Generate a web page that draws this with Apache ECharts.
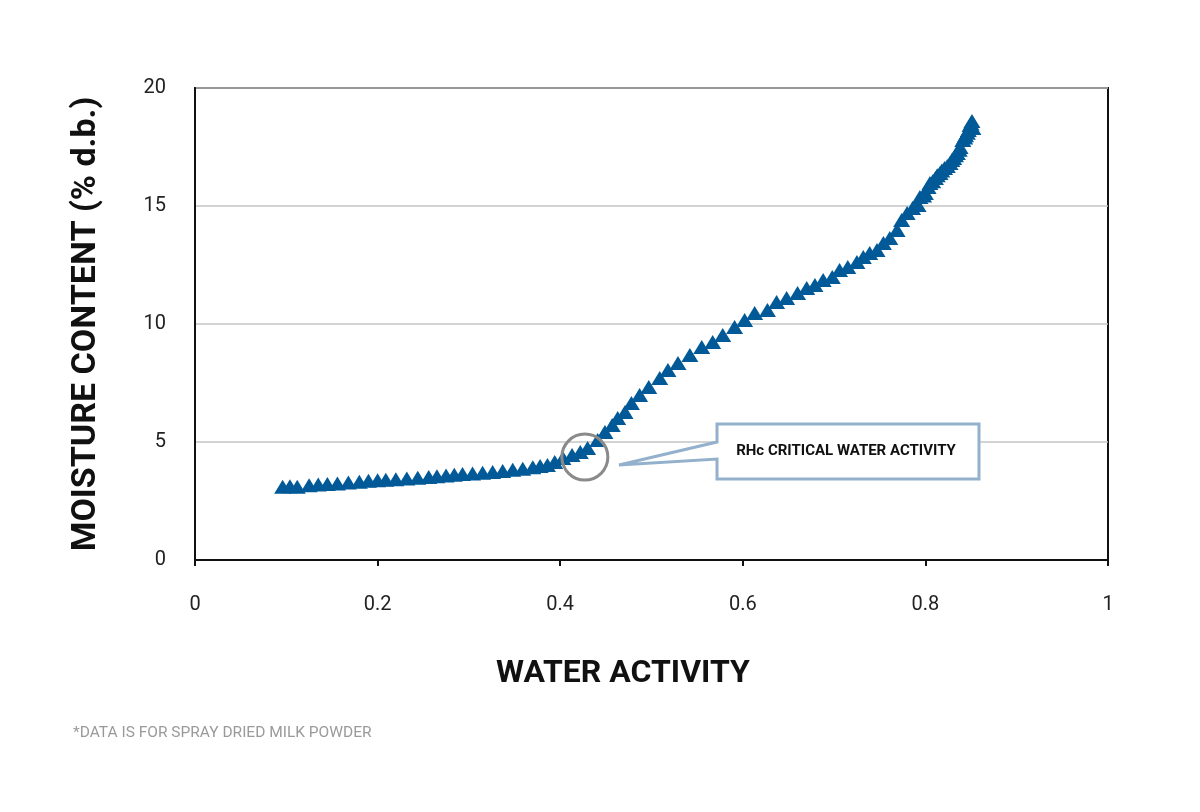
<!DOCTYPE html>
<html>
<head>
<meta charset="utf-8">
<script src="https://cdn.jsdelivr.net/npm/echarts@6/dist/echarts.min.js"></script>
<style>
html,body{margin:0;padding:0;background:#fff;}
#chart{width:1200px;height:812px;}
</style>
</head>
<body>
<div id="chart"></div>
<script>
// Water activity (x) values
const waterActivity = [
  0.096, 0.104, 0.112, 0.125, 0.135, 0.145, 0.156, 0.168, 0.180, 0.190,
  0.200, 0.209, 0.220, 0.232, 0.244, 0.256, 0.265, 0.275, 0.284, 0.293,
  0.304, 0.315, 0.326, 0.337, 0.348, 0.359, 0.370, 0.378,
  0.386, 0.394, 0.403, 0.413, 0.422, 0.430, 0.441, 0.449, 0.457, 0.463,
  0.471, 0.478, 0.487, 0.497, 0.509, 0.518, 0.529, 0.542, 0.555, 0.567,
  0.578, 0.591, 0.602, 0.613, 0.627, 0.637, 0.648, 0.660, 0.670, 0.679,
  0.688, 0.698, 0.706, 0.715, 0.725, 0.732, 0.739, 0.747, 0.754, 0.761,
  0.769, 0.774, 0.780, 0.786, 0.792, 0.794, 0.798, 0.800, 0.803, 0.805,
  0.808, 0.811, 0.813, 0.816, 0.818, 0.821, 0.824, 0.827, 0.829, 0.831,
  0.833, 0.835, 0.837, 0.838, 0.841, 0.843, 0.844, 0.846, 0.847, 0.849,
  0.850, 0.851, 0.852
];
// Moisture content (% d.b.) values
const moistureContent = [
  3.10, 3.12, 3.10, 3.17, 3.20, 3.22, 3.24, 3.28, 3.32, 3.36,
  3.38, 3.40, 3.42, 3.45, 3.49, 3.52, 3.55, 3.58, 3.61, 3.64,
  3.67, 3.70, 3.73, 3.77, 3.82, 3.87, 3.93, 3.98,
  4.03, 4.15, 4.32, 4.45, 4.58, 4.75, 5.08, 5.42, 5.72, 6.02,
  6.27, 6.65, 6.99, 7.33, 7.71, 8.05, 8.35, 8.69, 9.03, 9.24,
  9.53, 9.87, 10.17, 10.47, 10.59, 10.93, 11.10, 11.31, 11.53, 11.65,
  11.86, 11.99, 12.29, 12.42, 12.63, 12.84, 13.01, 13.14, 13.43, 13.64,
  13.98, 14.41, 14.70, 14.92, 15.04, 15.38, 15.45, 15.55, 15.80, 15.97,
  16.05, 16.19, 16.30, 16.40, 16.50, 16.61, 16.70, 16.82, 16.95, 17.03,
  17.15, 17.25, 17.38, 17.50, 17.80, 17.90, 18.00, 18.10, 18.22, 18.43,
  18.50, 18.60, 18.30
];
const xTicks = [0, 0.2, 0.4, 0.6, 0.8, 1];
const yTicks = [0, 5, 10, 15, 20];
const criticalPoint = [0.427, 4.36];
const calloutText = 'RHc CRITICAL WATER ACTIVITY';
const xTitle = 'WATER ACTIVITY';
const yTitle = 'MOISTURE CONTENT (% d.b.)';
const footnote = '*DATA IS FOR SPRAY DRIED MILK POWDER';

const points = waterActivity.map((x, i) => [x, moistureContent[i]]);

const chart = echarts.init(document.getElementById('chart'), null, {renderer: 'canvas'});
const FONT = 'Roboto, "Liberation Sans", sans-serif';

chart.setOption({
  animation: false,
  backgroundColor: '#ffffff',
  grid: {
    left: 195, right: 92, top: 88, bottom: 252,
    show: true, borderColor: '#111', borderWidth: 2, backgroundColor: 'transparent'
  },
  xAxis: {
    type: 'value', min: 0, max: 1, interval: 0.2,
    axisLine: {show: true, lineStyle: {color: '#111', width: 2}},
    axisTick: {show: true, length: 6, lineStyle: {color: '#111', width: 2}},
    splitLine: {show: false},
    axisLabel: {
      color: '#222', fontSize: 20, fontFamily: FONT, margin: 35,
      formatter: v => String(+v.toFixed(1))
    }
  },
  yAxis: {
    type: 'value', min: 0, max: 20, interval: 5,
    axisLine: {show: true, lineStyle: {color: '#111', width: 2}},
    axisTick: {show: false},
    splitLine: {show: true, lineStyle: {color: '#c4c4c4', width: 1.5}},
    axisLabel: {color: '#222', fontSize: 20, fontFamily: FONT, margin: 29,
      verticalAlign: 'middle', padding: [6, 0, 0, 0]},
    name: yTitle, nameLocation: 'middle', nameGap: 92, nameRotate: 90,
    nameTextStyle: {color: '#111', fontSize: 34, fontWeight: 'bold', fontFamily: FONT}
  },
  series: [{
    type: 'scatter',
    data: points,
    symbol: 'triangle',
    symbolSize: [17, 14],
    itemStyle: {color: '#015a97', opacity: 1},
    z: 3
  }]
});

const c = chart.convertToPixel({gridIndex: 0}, criticalPoint);

chart.setOption({
  graphic: [
    {
      type: 'circle', z: 10,
      shape: {cx: c[0], cy: c[1], r: 23},
      style: {fill: 'transparent', stroke: '#8a8a8a', lineWidth: 3}
    },
    {
      type: 'polygon', z: 10,
      shape: {points: [[717, 442], [717, 424], [979, 424], [979, 479], [717, 479], [717, 459], [619, 465]]},
      style: {fill: '#ffffff', stroke: '#93b1cc', lineWidth: 3, lineJoin: 'miter'}
    },
    {
      type: 'text', z: 11,
      style: {
        x: 846, y: 451, text: calloutText, align: 'center', verticalAlign: 'middle',
        fill: '#111', fontSize: 15, fontWeight: 'bold', fontFamily: FONT
      }
    },
    {
      type: 'text', z: 11,
      style: {
        x: 623, y: 674, text: xTitle, align: 'center', verticalAlign: 'middle',
        fill: '#111', fontSize: 32, fontWeight: 'bold', fontFamily: FONT
      }
    },
    {
      type: 'text', z: 11,
      style: {
        x: 73, y: 733, text: footnote, align: 'left', verticalAlign: 'middle',
        fill: '#9a9a9a', fontSize: 15.5, fontFamily: FONT
      }
    }
  ]
});
</script>
</body>
</html>
